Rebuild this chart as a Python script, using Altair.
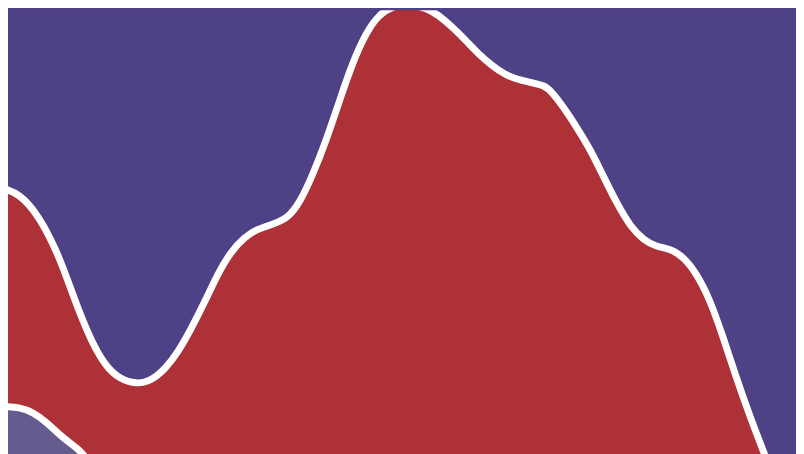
import altair as alt
import pandas as pd

# Red series: position along x and height of its top edge
red_x = [0, 20, 40, 57, 67, 80, 93, 107, 120, 138, 153, 167, 180, 193, 207, 220, 233, 247,
         260, 273, 290, 303, 316, 330, 343, 356, 370, 383, 397, 410, 430, 443, 457, 470,
         483, 497, 510, 523, 537, 550, 557, 570, 583, 597, 610, 623, 637, 650, 663, 677,
         690, 703, 717, 730, 743, 757, 770, 790, 810]
red_v = [267, 261, 237, 203, 177, 141, 110, 86, 74, 68, 72, 84, 101, 124, 152, 180, 202, 217,
         225, 229, 235, 252, 280, 316, 355, 393, 424, 442, 450, 452, 449, 441, 429, 416,
         402, 390, 381, 376, 373, 370, 364, 347, 327, 304, 277, 251, 227, 214, 207, 205,
         197, 181, 154, 117, 77, 37, 3, -48, -98]

# Light purple series (bottom left)
lp_x = [0, 20, 33, 47, 60, 73, 80, 90, 110]
lp_v = [46, 45, 40, 30, 17, 7, 2, -10, -36]

BG = "#4f4186"
RED = "#ad3136"
LP = "#655b8f"

red_df = pd.DataFrame({"x": red_x, "v": red_v})
lp_df = pd.DataFrame({"x": lp_x, "v": lp_v})

xs = alt.Scale(domain=[8, 804], nice=False, zero=False)
ys = alt.Scale(domain=[-4, 446], nice=False, zero=False)

def layer(df, color):
    base = alt.Chart(df).encode(
        x=alt.X("x:Q", scale=xs, axis=None),
        y=alt.Y("v:Q", scale=ys, axis=None),
    )
    area = base.mark_area(color=color, interpolate="basis", clip=True).encode(
        y2=alt.datum(-300)
    )
    line = base.mark_line(color="white", strokeWidth=7, interpolate="basis", clip=True)
    return area + line

chart = alt.layer(layer(red_df, RED), layer(lp_df, LP)).properties(
    width=796, height=450, padding=0, background=BG
).configure_view(stroke=None, fill=BG)

chart.save("out.html", embed_options={"renderer": "svg", "actions": False})
